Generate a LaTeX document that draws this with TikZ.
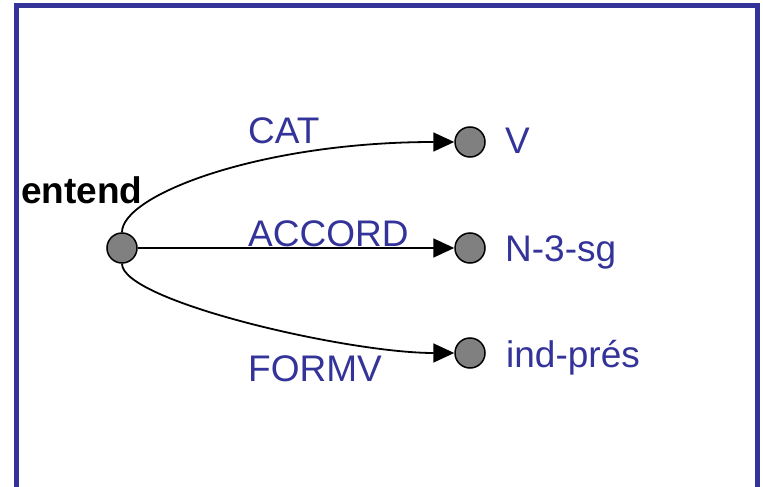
\documentclass[tikz,border=0pt]{standalone}
\usepackage{fontspec}
\setmainfont{Liberation Sans}
\usetikzlibrary{positioning}
\usetikzlibrary{arrows.meta}
\definecolor{navy}{HTML}{333399}
\tikzset{
    dotnode/.style = {circle, line width=1.5pt, draw=black, fill=gray, minimum size=30pt, inner sep=0pt},
    featlab/.style = {text=navy, inner sep=0pt, anchor=base west, font=\fontsize{37}{40}\selectfont},
    headlab/.style = {text=black, inner sep=0pt, anchor=base west, font=\fontsize{37}{40}\selectfont\bfseries},
    edgen/.style = {-{Triangle[length=21pt,width=19pt]}, line width=1.8pt, black},
    framen/.style = {navy, line width=5pt}
}

\begin{document}
\begin{tikzpicture}[x=1pt,y=-1pt]
  \useasboundingbox (0,0) rectangle (763,487);
  \draw[framen] (16.5,490) -- (16.5,6) -- (757.5,6) -- (757.5,490);

  % nodes
  \node[dotnode] (entend) at (122,248) {};
  \node[dotnode] (v) at (470,142) {};
  \node[dotnode] (nsg) at (470,248) {};
  \node[dotnode] (ind) at (470,353) {};

  \node[headlab] (entendlab) at (21,203) {entend};
  \node[featlab] (vlab) at (505,153) {V};
  \node[featlab] (nsglab) at (505,261) {N-3-sg};
  \node[featlab] (indlab) at (506,367) {ind-prés};

  % features
  \draw[edgen] (entend.north) .. controls (122,195) and (260,142) .. (v.west);
  \draw[edgen] (entend) -- (nsg);
  \draw[edgen] (entend.south) .. controls (122,301) and (347,353) .. (ind.west);

  \node[featlab] (cat) at (248,143) {CAT};
  \node[featlab] (accord) at (248,246) {ACCORD};
  \node[featlab] (formv) at (248,381) {FORMV};

\end{tikzpicture}
\end{document}
